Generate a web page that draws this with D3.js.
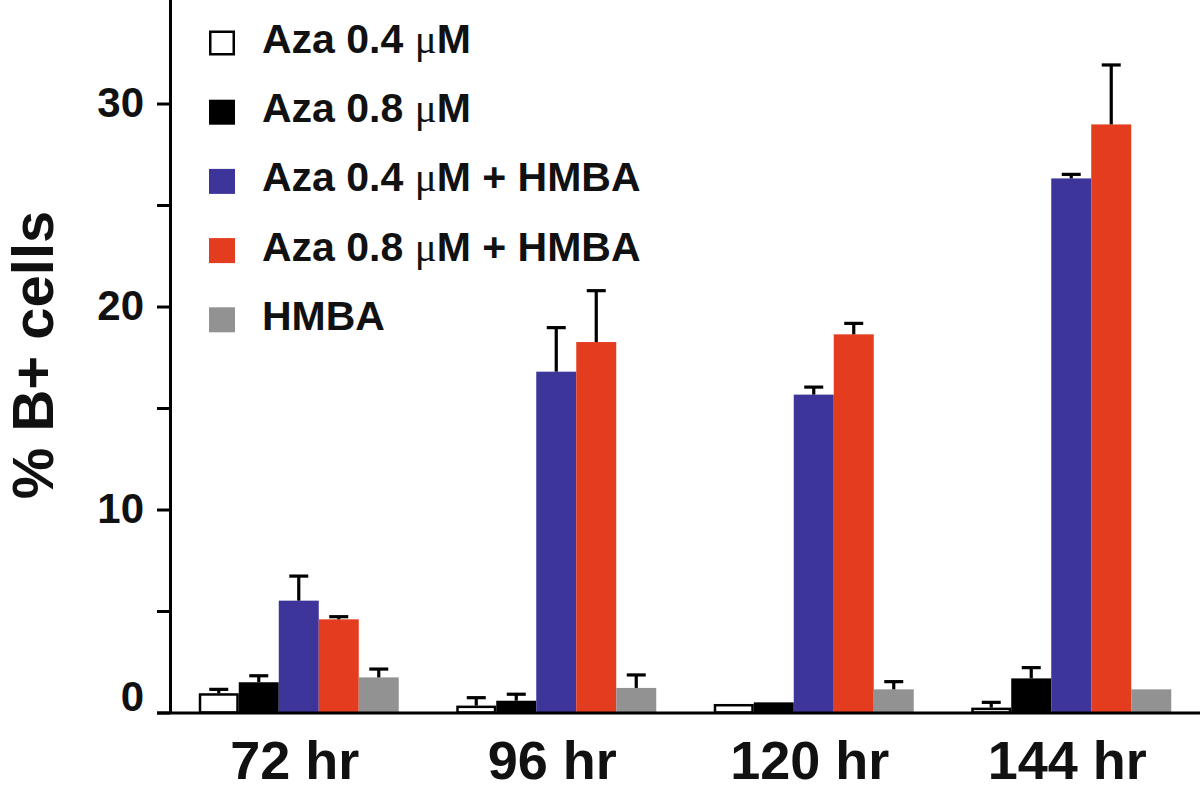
<!DOCTYPE html>
<html>
<head>
<meta charset="utf-8">
<script src="https://cdn.jsdelivr.net/npm/d3@7"></script>
<style>
  html, body { margin: 0; padding: 0; background: #fff; }
  svg { display: block; }
  text { font-family: "Liberation Sans", Arial, Helvetica, sans-serif; font-weight: bold; fill: #111; }
</style>
</head>
<body>
<svg id="chart" width="1200" height="790"></svg>
<script>
// ---- data ----
const categories = ["72 hr", "96 hr", "120 hr", "144 hr"];
const seriesNames = ["Aza 0.4 μM", "Aza 0.8 μM", "Aza 0.4 μM + HMBA", "Aza 0.8 μM + HMBA", "HMBA"];
const seriesColors = ["#ffffff", "#000000", "#3e359b", "#e33c1e", "#929292"];
// means per series, one per category
const aza04 = [0.95, 0.34, 0.42, 0.24];
const aza08 = [1.49, 0.58, 0.50, 1.68];
const aza04Hmba = [5.51, 16.79, 15.66, 26.31];
const aza08Hmba = [4.59, 18.25, 18.63, 28.97];
const hmba = [1.73, 1.21, 1.14, 1.14];
// upper error (value of error bar top)
const aza04Err = [1.14, 0.73, 0.42, 0.50];
const aza08Err = [1.81, 0.90, 0.50, 2.21];
const aza04HmbaErr = [6.72, 18.96, 16.03, 26.51];
const aza08HmbaErr = [4.72, 20.78, 19.17, 31.90];
const hmbaErr = [2.14, 1.85, 1.52, 1.14];
const yTicks = [0, 5, 10, 15, 20, 25, 30];
const yTickLabels = ["0", "", "10", "", "20", "", "30"];
const yTitle = "% B+ cells";

const seriesValues = [aza04, aza08, aza04Hmba, aza08Hmba, hmba];
const seriesErrors = [aza04Err, aza08Err, aza04HmbaErr, aza08HmbaErr, hmbaErr];

// ---- layout ----
const svg = d3.select("#chart");
const axisX = 170, baseY = 712.5, topY = 0, rightX = 1200;

const y = d3.scaleLinear().domain([0, 35.1]).range([baseY, topY]);
const x0 = d3.scaleBand().domain(categories).range([axisX, rightX])
  .paddingInner(0.2233).paddingOuter(0.1117);
const x1 = d3.scaleBand().domain(d3.range(seriesNames.length)).range([0, x0.bandwidth()]);

// bars
const data = [];
categories.forEach((c, ci) => {
  seriesValues.forEach((vals, si) => {
    data.push({ cat: c, s: si, v: vals[ci], e: seriesErrors[si][ci] });
  });
});

const g = svg.append("g");
g.selectAll("rect.bar").data(data).enter().append("rect")
  .attr("class", "bar")
  .attr("x", d => x0(d.cat) + x1(d.s) + (d.s === 0 ? 1.25 : 0))
  .attr("width", d => x1.bandwidth() - (d.s === 0 ? 2.5 : 0))
  .attr("y", d => y(d.v) + (d.s === 0 ? 1.25 : 0))
  .attr("height", d => Math.max(0, y(0) - y(d.v) - (d.s === 0 ? 1.25 : 0)))
  .attr("fill", d => seriesColors[d.s])
  .attr("stroke", d => d.s === 0 ? "#000" : "none")
  .attr("stroke-width", 2.5);

// error bars (upper only)
const errData = data.filter(d => d.e > d.v + 0.02);
const eg = g.selectAll("g.err").data(errData).enter().append("g").attr("class", "err");
eg.append("line")
  .attr("x1", d => x0(d.cat) + x1(d.s) + x1.bandwidth() / 2)
  .attr("x2", d => x0(d.cat) + x1(d.s) + x1.bandwidth() / 2)
  .attr("y1", d => y(d.v))
  .attr("y2", d => y(d.e))
  .attr("stroke", "#000").attr("stroke-width", 3.2);
eg.append("line")
  .attr("x1", d => x0(d.cat) + x1(d.s) + x1.bandwidth() / 2 - 9.5)
  .attr("x2", d => x0(d.cat) + x1(d.s) + x1.bandwidth() / 2 + 9.5)
  .attr("y1", d => y(d.e))
  .attr("y2", d => y(d.e))
  .attr("stroke", "#000").attr("stroke-width", 3.2);

// y axis
const yAxis = d3.axisLeft(y).tickValues(yTicks)
  .tickFormat((d, i) => yTickLabels[i]).tickSize(13).tickPadding(13).tickSizeOuter(0);
const ya = svg.append("g").attr("transform", `translate(${axisX},0)`).call(yAxis);
ya.select(".domain").attr("stroke", "#000").attr("stroke-width", 3)
  .attr("d", `M0.5,${baseY}V${topY}`);
ya.selectAll(".tick line").attr("stroke", "#000").attr("stroke-width", 3);
ya.selectAll(".tick text")
  .style("font-family", '"Liberation Sans", Arial, sans-serif')
  .style("font-weight", "bold").style("font-size", "42px").attr("fill", "#111")
  .attr("dy", d => d === 0 ? "-0.05em" : "0.32em");

// x axis baseline
const xAxis = d3.axisBottom(x0).tickSize(0).tickPadding(28);
const xa = svg.append("g").attr("transform", `translate(0,${baseY})`).call(xAxis);
xa.select(".domain").attr("stroke", "#000").attr("stroke-width", 3)
  .attr("d", `M${axisX - 13},0.5H${rightX}`);
xa.selectAll(".tick text")
  .style("font-family", '"Liberation Sans", Arial, sans-serif')
  .style("font-weight", "bold").style("font-size", "54px").attr("fill", "#111")
  .attr("dx", "-4px").attr("dy", "0.71em");

// y title
svg.append("text")
  .attr("transform", `translate(53,355) rotate(-90)`)
  .attr("text-anchor", "middle")
  .style("font-size", "58px")
  .text(yTitle);

// legend
const legendX = 209, legendY0 = 43, legendStep = 69.2;
const lg = svg.append("g").selectAll("g").data(seriesNames).enter().append("g")
  .attr("transform", (d, i) => `translate(${legendX},${legendY0 + i * legendStep})`);
lg.append("rect")
  .attr("x", (d, i) => i === 0 ? 1.25 : 0)
  .attr("y", (d, i) => -12.5 + (i === 0 ? 1.25 : 0))
  .attr("width", (d, i) => 26 - (i === 0 ? 2.5 : 0))
  .attr("height", (d, i) => 25 - (i === 0 ? 2.5 : 0))
  .attr("fill", (d, i) => seriesColors[i])
  .attr("stroke", (d, i) => i === 0 ? "#000" : "none")
  .attr("stroke-width", 2.5);
lg.append("text")
  .attr("x", 53).attr("y", 10)
  .style("font-size", "41px")
  .each(function (d) {
    const t = d3.select(this);
    const parts = d.split("μ");
    t.append("tspan").text(parts[0]);
    if (parts.length > 1) {
      t.append("tspan").text("μ")
        .style("font-family", '"Liberation Serif", "Times New Roman", serif')
        .style("font-weight", "normal");
      t.append("tspan").text(parts[1]);
    }
  });
</script>
</body>
</html>
